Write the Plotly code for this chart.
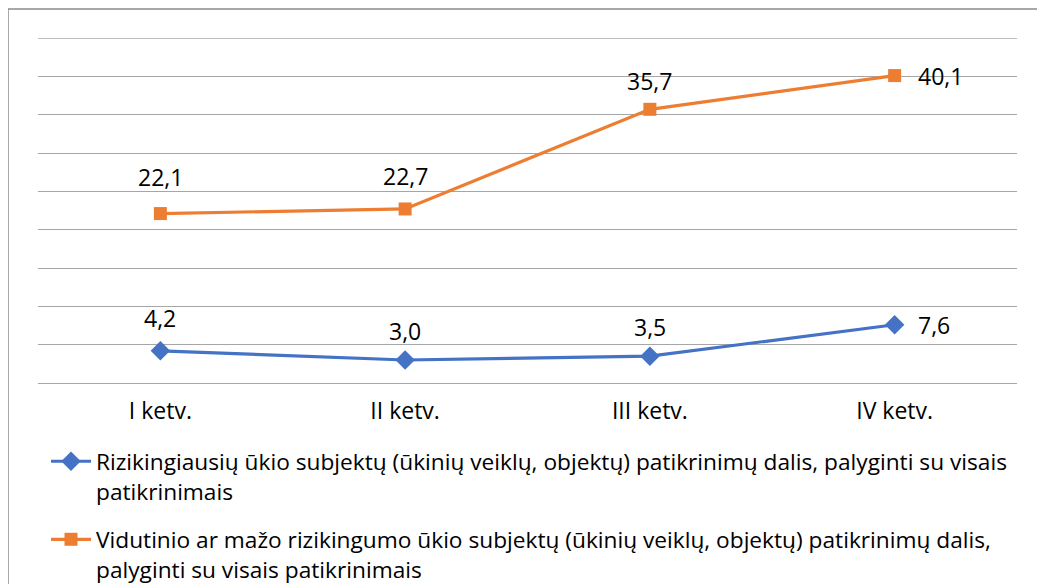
import plotly.graph_objects as go

categories = ["I ketv.", "II ketv.", "III ketv.", "IV ketv."]
blue_vals = [4.2, 3.0, 3.5, 7.6]
orange_vals = [22.1, 22.7, 35.7, 40.1]
blue_name = "Rizikingiausių ūkio subjektų (ūkinių veiklų, objektų) patikrinimų dalis, palyginti su visais<br>patikrinimais"
orange_name = "Vidutinio ar mažo rizikingumo ūkio subjektų (ūkinių veiklų, objektų) patikrinimų dalis,<br>palyginti su visais patikrinimais"

# label placement (style): pixel lift of each label above its point
blue_label_dy = [33, 29, 29]
orange_label_dy = [37, 33, 28]

BLUE = "#4472C4"
ORANGE = "#ED7D31"
FONT = "Open Sans"
FS_LAB = 23
FS_TICK = 23
FS_LEG = 22.7

fig = go.Figure()
fig.add_trace(go.Scatter(x=categories, y=blue_vals, mode="lines+markers", name=blue_name,
                         legendgroup="a",
                         line=dict(color=BLUE, width=3.2),
                         marker=dict(symbol="diamond", size=15, color=BLUE)))
fig.add_trace(go.Scatter(x=categories, y=orange_vals, mode="lines+markers", name=orange_name,
                         legendgroup="b",
                         line=dict(color=ORANGE, width=3.2),
                         marker=dict(symbol="square", size=13, color=ORANGE)))

def fmt(v):
    return f"{v:.1f}".replace(".", ",")

annotations = []
for vals, dys in ((blue_vals, blue_label_dy), (orange_vals, orange_label_dy)):
    for i, (c, v) in enumerate(zip(categories, vals)):
        if i == len(categories) - 1:
            annotations.append(dict(x=c, y=v, text=fmt(v), showarrow=False, xanchor="left",
                                    yanchor="middle", xshift=21,
                                    font=dict(size=FS_LAB, color="#000", family=FONT)))
        else:
            annotations.append(dict(x=c, y=v, text=fmt(v), showarrow=False, xanchor="center",
                                    yanchor="middle", yshift=dys[i],
                                    font=dict(size=FS_LAB, color="#000", family=FONT)))

# page body has an 8px margin; target pixel coords are absolute in the screenshot
OFF = 8
W, H = 1045 - OFF, 584 - OFF
L, R, T, B = 38, 1017, 38, 383
pw, ph = R - L, B - T
def px(x):
    return (x - L) / pw
def py(y):
    return (B - y) / ph

YMAX = 45
fig.update_layout(
    width=W, height=H,
    margin=dict(l=L - OFF, r=1045 - R, t=T - OFF, b=584 - B, pad=0, autoexpand=False),
    paper_bgcolor="white", plot_bgcolor="white",
    font=dict(family=FONT, size=FS_LEG, color="#000"),
    showlegend=True,
    legend=dict(x=px(46), y=py(440), xanchor="left", yanchor="top", orientation="v",
                valign="top", tracegroupgap=16, font=dict(size=FS_LEG, family=FONT, color="#000"),
                itemwidth=40, bgcolor="rgba(0,0,0,0)"),
    annotations=annotations,
    shapes=[
        dict(type="path", xref="paper", yref="paper",
             path=f"M {px(8)},{py(600)} L {px(8)},{py(9)} L {px(1060)},{py(9)}",
             line=dict(color="#8C8C8C", width=1.5)),
        dict(type="line", xref="paper", yref="y", x0=0, x1=1, y0=YMAX, y1=YMAX,
             line=dict(color="#A6A6A6", width=1.3), layer="below"),
    ],
)
fig.update_xaxes(type="category", range=[-0.5, 3.5], showgrid=False, showline=False, zeroline=False,
                 automargin=False,
                 ticks="", ticklabelstandoff=12, tickfont=dict(size=FS_TICK, family=FONT, color="#000"))
fig.update_yaxes(range=[0, YMAX], dtick=5, showgrid=True, gridcolor="#A6A6A6", gridwidth=1.3,
                 zeroline=True, zerolinecolor="#A6A6A6", zerolinewidth=1.3, automargin=False,
                 showticklabels=False, showline=False, ticks="")

fig.write_html("out.html")
